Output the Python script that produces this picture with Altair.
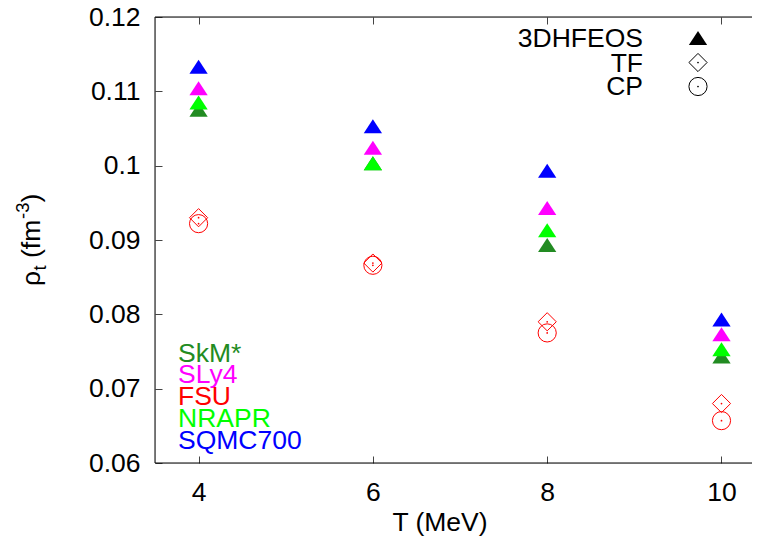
import altair as alt
import pandas as pd

# ---- data ----
T = [4, 6, 8, 10]
models = ["SkM*", "SLy4", "NRAPR", "SQMC700"]
colors = ["#228B22", "#FF00FF", "#00FF00", "#0000FF"]
skm = [0.1072, 0.1000, 0.0890, 0.0740]
sly4 = [0.1101, 0.1021, 0.0940, 0.0770]
nrapr = [0.1082, 0.1000, 0.0910, 0.0750]
sqmc = [0.1130, 0.1050, 0.0990, 0.0790]
fsu_tf = [0.0930, 0.0869, 0.0790, 0.0680]
fsu_cp = [0.0922, 0.0866, 0.0775, 0.0657]
y_ticks = [0.06, 0.07, 0.08, 0.09, 0.10, 0.11, 0.12]
legend_names = ["3DHFEOS", "TF", "CP"]
label_names = ["SkM*", "SLy4", "FSU", "NRAPR", "SQMC700"]
label_colors = ["#228B22", "#FF00FF", "#FF0000", "#00FF00", "#0000FF"]

FONT = "Liberation Sans"
FS = 26.5
SUB = 18.5
TRI = "M0,-1.02L1,0.51L-1,0.51Z"
W, H = 597, 446

rows = []
for m, vals in zip(models, [skm, sly4, nrapr, sqmc]):
    for t, v in zip(T, vals):
        rows.append({"T": t, "rho": v, "model": m})
tri_df = pd.DataFrame(rows)
tf_df = pd.DataFrame({"T": T, "rho": fsu_tf})
cp_df = pd.DataFrame({"T": T, "rho": fsu_cp})

xscale = alt.Scale(domain=[3.5, 10.35], nice=False, zero=False)
yscale = alt.Scale(domain=[0.06, 0.12], nice=False, zero=False)

x_bottom = alt.Axis(values=T, title=None, tickSize=7, offset=-7, domain=False, grid=False,
                    labelPadding=16, labelFontSize=FS, labelFont=FONT, labelColor="black",
                    tickColor="#444", tickWidth=1)
x_top = alt.Axis(orient="top", values=T, title=None, tickSize=7, offset=-7, domain=False,
                 grid=False, labels=False, tickColor="#444", tickWidth=1)
y_left = alt.Axis(values=y_ticks, title=None, tickSize=7, offset=-7, domain=False, grid=False,
                  labelPadding=15, labelFontSize=FS, labelFont=FONT, labelColor="black",
                  format=".2~f", tickColor="#444", tickWidth=1)

tri = alt.Chart(tri_df).mark_point(shape=TRI, filled=True, size=335, opacity=1, strokeWidth=0).encode(
    x=alt.X("T:Q", scale=xscale, axis=x_bottom),
    y=alt.Y("rho:Q", scale=yscale, axis=y_left),
    color=alt.Color("model:N", scale=alt.Scale(domain=models, range=colors), legend=None),
)

tf = alt.Chart(tf_df).mark_point(shape="diamond", filled=False, size=330, color="#FF0000",
                                 strokeWidth=1, opacity=1).encode(
    x=alt.X("T:Q", scale=xscale, axis=x_top),
    y=alt.Y("rho:Q", scale=yscale, axis=None),
)
cp = alt.Chart(cp_df).mark_point(shape="circle", filled=False, size=330, color="#FF0000",
                                 strokeWidth=1, opacity=1).encode(
    x=alt.X("T:Q", scale=xscale, axis=None),
    y=alt.Y("rho:Q", scale=yscale, axis=None),
)
tf_dot = alt.Chart(tf_df).mark_circle(size=3, color="#FF0000", opacity=1).encode(
    x=alt.X("T:Q", scale=xscale, axis=None),
    y=alt.Y("rho:Q", scale=yscale, axis=None),
)
cp_dot = alt.Chart(cp_df).mark_circle(size=3, color="#FF0000", opacity=1).encode(
    x=alt.X("T:Q", scale=xscale, axis=None),
    y=alt.Y("rho:Q", scale=yscale, axis=None),
)

# frame (left, top, bottom borders)
frame_df = pd.DataFrame({"t": [0]})
frame = [
    alt.Chart(frame_df).mark_rule(color="black", strokeWidth=1).encode(
        x=alt.value(0), y=alt.value(0), y2=alt.value(H)),
    alt.Chart(frame_df).mark_rule(color="black", strokeWidth=1).encode(
        x=alt.value(0), x2=alt.value(W), y=alt.value(0)),
    alt.Chart(frame_df).mark_rule(color="black", strokeWidth=1).encode(
        x=alt.value(0), x2=alt.value(W), y=alt.value(H)),
]

layers = [tri, tf, cp, tf_dot, cp_dot] + frame


def txt(s, x, y, color="black", size=FS, align="left", baseline="alphabetic", angle=0, dx=0, dy=0):
    return alt.Chart(pd.DataFrame({"t": [s]})).mark_text(
        font=FONT, fontSize=size, color=color, align=align, baseline=baseline,
        angle=angle, dx=dx, dy=dy).encode(text="t:N", x=alt.value(x), y=alt.value(y))


def sym(shape, x, y, filled, size=330):
    return alt.Chart(pd.DataFrame({"t": [0]})).mark_point(
        shape=shape, filled=filled, size=size, color="black", strokeWidth=1 if not filled else 0,
        opacity=1).encode(x=alt.value(x), y=alt.value(y))


def dot(x, y):
    return alt.Chart(pd.DataFrame({"t": [0]})).mark_circle(size=3, color="black", opacity=1).encode(
        x=alt.value(x), y=alt.value(y))


# legend (top right)
leg_base = [30, 54.5, 78]
for name, yb in zip(legend_names, leg_base):
    layers.append(txt(name, 488, yb, align="right"))
layers.append(sym(TRI, 543, 23.4, True, 335))
layers.append(sym("diamond", 543, 45.5, False))
layers.append(dot(543, 45.5))
layers.append(sym("circle", 543, 69.5, False))
layers.append(dot(543, 69.5))

# model labels (bottom left)
lab_base = [344.5, 366.3, 388.1, 409.9, 431.7]
for name, c, yb in zip(label_names, label_colors, lab_base):
    layers.append(txt(name, 23, yb, color=c))

# axis titles
layers.append(txt("T (MeV)", 285, 514, align="center"))
ax, ay = -115, 269
layers.append(txt("\u03c1", ax, ay, angle=270))
layers.append(txt("t", ax, ay, size=SUB, angle=270, dx=15.5, dy=6))
layers.append(txt("(fm", ax, ay, angle=270, dx=28))
layers.append(txt("-3", ax, ay, size=SUB, angle=270, dx=67, dy=-11))
layers.append(txt(")", ax, ay, angle=270, dx=83.5))

chart = alt.layer(*layers).resolve_axis(x="independent", y="independent").properties(
    width=W, height=H,
    padding={"left": 147, "top": 9, "right": 0, "bottom": 75},
    autosize=alt.AutoSizeParams(type="none"),
).configure_view(strokeWidth=0).configure(background="white")

chart.save("out.html", embed_options={"renderer": "svg", "actions": False})
